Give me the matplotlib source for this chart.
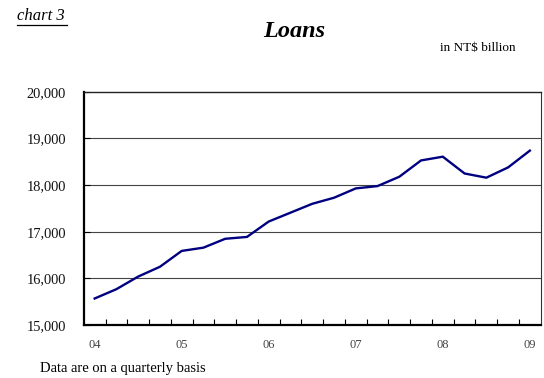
import numpy as np
import matplotlib
matplotlib.use('Agg')
import matplotlib.pyplot as plt

# 季度贷款数据 (NT$ billion), 04Q1 .. 09Q1
loans = [15570, 15770, 16040, 16250, 16590, 16660, 16850, 16890,
         17220, 17410, 17600, 17730, 17930, 17980, 18180, 18530,
         18610, 18250, 18160, 18380, 18740]
year_labels = ['04', '05', '06', '07', '08', '09']
y_ticks = [15000, 16000, 17000, 18000, 19000, 20000]

plt.rcParams['font.family'] = ['Liberation Serif', 'DejaVu Serif']

fig = plt.figure(figsize=(5.44, 3.78), dpi=100)
ax = fig.add_axes([0.154, 0.140, 0.840, 0.617])

x = np.arange(len(loans))
ax.plot(x, loans, color='#000080', lw=1.7, solid_joinstyle='miter')

ax.set_xlim(-0.5, len(loans) - 0.5)
ax.set_ylim(15000, 20000)
ax.set_yticks(y_ticks)
ax.set_yticklabels(['{:,}'.format(v) for v in y_ticks], fontsize=10.4, color='#111111')
ax.tick_params(axis='y', direction='in', length=4, width=0.8, pad=13)

# 年份标签 (每4个季度一个)
ax.set_xticks(x[::4])
ax.set_xticklabels(year_labels, fontsize=9, color='#444444')
ax.tick_params(axis='x', which='major', length=0, pad=10)
ax.set_xticks(x[:-1] + 0.5, minor=True)
ax.tick_params(axis='x', which='minor', direction='in', length=4, width=0.8)

for v in y_ticks[1:-1]:
    ax.axhline(v, color='#444444', lw=0.8, zorder=0)

for side in ['left', 'bottom']:
    ax.spines[side].set_linewidth(1.6)
    ax.spines[side].set_color('black')
ax.spines['top'].set_linewidth(1.0)
ax.spines['top'].set_color('#222222')
ax.spines['right'].set_linewidth(0.8)
ax.spines['right'].set_color('#333333')

fig.text(0.031, 0.958, 'chart 3', fontsize=12, style='italic', va='center')
fig.add_artist(plt.Line2D([0.031, 0.123], [0.935, 0.935], color='black', lw=0.9))
fig.text(0.54, 0.917, 'Loans', fontsize=17.5, style='italic', fontweight='bold',
         ha='center', va='center')
fig.text(0.878, 0.872, 'in NT$ billion', fontsize=9.5, ha='center', va='center')
fig.text(0.073, 0.024, 'Data are on a quarterly basis', fontsize=10.5, va='center')

fig.savefig('out.png', dpi=100)
